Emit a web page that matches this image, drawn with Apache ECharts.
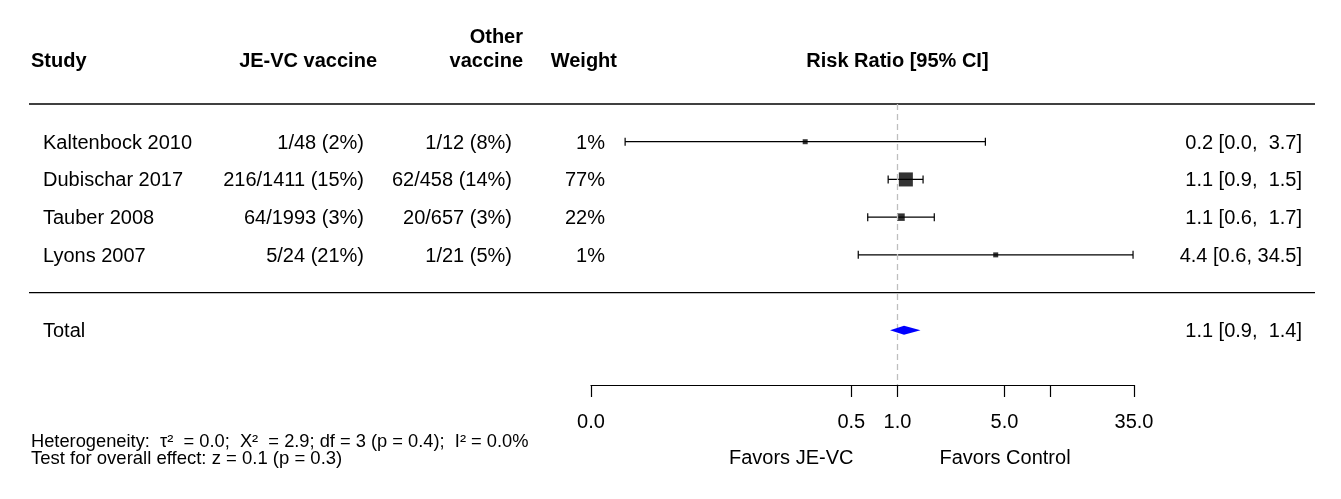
<!DOCTYPE html>
<html>
<head>
<meta charset="utf-8">
<script src="https://cdn.jsdelivr.net/npm/echarts@6/dist/echarts.min.js"></script>
<style>
  html, body { margin: 0; padding: 0; background: #fff; }
  #chart { width: 1341px; height: 499px; }
</style>
</head>
<body>
<div id="chart"></div>
<script>
// study table
const studies = ['Kaltenbock 2010', 'Dubischar 2017', 'Tauber 2008', 'Lyons 2007']
const jeVc = ['1/48 (2%)', '216/1411 (15%)', '64/1993 (3%)', '5/24 (21%)']
const otherVac = ['1/12 (8%)', '62/458 (14%)', '20/657 (3%)', '1/21 (5%)']
const weights = [1, 77, 22, 1]
const weightText = ['1%', '77%', '22%', '1%']

// risk ratios
const rr = [0.25, 1.135, 1.055, 4.38]
const ciLow = [0.0167, 0.87, 0.64, 0.555]
const ciHigh = [3.75, 1.47, 1.74, 34.5]
const ciText = ['0.2 [0.0,  3.7]', '1.1 [0.9,  1.5]', '1.1 [0.6,  1.7]', '4.4 [0.6, 34.5]']

// pooled estimate
const totalRR = [1.104]
const totalLow = [0.895]
const totalHigh = [1.415]
const totalText = ['1.1 [0.9,  1.4]']

// x axis ticks (log scale)
const tickValues = [0.01, 0.5, 1, 5, 10, 35]
const tickLabels = ['0.0', '0.5', '1.0', '5.0', '', '35.0']

const FONT = '"Liberation Sans", Arial, sans-serif'
const lg = v => Math.log10(v)

// row slots on the y axis
const studyRows = [1, 2, 3, 4]
const totalRow = 6
const ruleRows = [0, 5]

const chart = echarts.init(document.getElementById('chart'))

chart.setOption({
  animation: false,
  backgroundColor: '#fff',
  grid: { left: 591, right: 207, top: 104, bottom: 114 },
  xAxis: {
    type: 'value',
    min: lg(0.01),
    max: lg(35),
    splitLine: { show: false },
    axisLine: { show: true, onZero: false, lineStyle: { color: '#000', width: 1.2 } },
    axisTick: {
      show: true, length: 12,
      customValues: tickValues.map(lg),
      lineStyle: { color: '#000', width: 1.2 }
    },
    axisLabel: {
      show: true,
      margin: 27,
      customValues: tickValues.filter((v, i) => tickLabels[i] !== '').map(lg),
      color: '#000',
      fontSize: 20,
      fontFamily: FONT,
      formatter: v => {
        const i = tickValues.findIndex(t => Math.abs(lg(t) - v) < 1e-6)
        return i >= 0 ? tickLabels[i] : ''
      }
    }
  },
  yAxis: {
    type: 'value',
    inverse: true,
    min: 0,
    max: 7.45,
    show: false
  },
  series: [
    {
      // reference line at RR = 1, kept under the marks
      type: 'line',
      name: 'ref',
      z: 1,
      silent: true,
      data: [],
      markLine: {
        silent: true,
        symbol: 'none',
        label: { show: false },
        lineStyle: { color: '#bfbfbf', type: [6, 4], width: 1.3 },
        data: [{ xAxis: 0 }]
      }
    },
    {
      type: 'custom',
      name: 'ci',
      z: 3,
      silent: true,
      data: studies.map((s, i) => [lg(ciLow[i]), lg(ciHigh[i]), studyRows[i]]),
      renderItem(params, api) {
        const p1 = api.coord([api.value(0), api.value(2)])
        const p2 = api.coord([api.value(1), api.value(2)])
        const st = { stroke: '#000', lineWidth: 1.2 }
        const cap = 4
        return {
          type: 'group',
          children: [
            { type: 'line', shape: { x1: p1[0], y1: p1[1], x2: p2[0], y2: p2[1] }, style: st },
            { type: 'line', shape: { x1: p1[0], y1: p1[1] - cap, x2: p1[0], y2: p1[1] + cap }, style: st },
            { type: 'line', shape: { x1: p2[0], y1: p2[1] - cap, x2: p2[0], y2: p2[1] + cap }, style: st }
          ]
        }
      }
    },
    {
      type: 'scatter',
      name: 'rr',
      z: 4,
      silent: true,
      symbol: 'rect',
      data: studies.map((s, i) => ({
        value: [lg(rr[i]), studyRows[i]],
        symbolSize: Math.max(5, 16 * Math.sqrt(weights[i] / 100))
      })),
      itemStyle: { color: '#000' }
    },
    {
      type: 'custom',
      name: 'total',
      z: 5,
      silent: true,
      data: totalRR.map((v, i) => [lg(totalLow[i]), lg(v), lg(totalHigh[i]), totalRow]),
      renderItem(params, api) {
        const y = api.value(3)
        const a = api.coord([api.value(0), y])
        const m = api.coord([api.value(1), y])
        const b = api.coord([api.value(2), y])
        const h = 4.5
        return {
          type: 'polygon',
          shape: { points: [[a[0], a[1]], [m[0], m[1] - h], [b[0], b[1]], [m[0], m[1] + h]] },
          style: { fill: '#0000ff' }
        }
      }
    }
  ]
})

// table text and rules, placed through the axes
const py = r => chart.convertToPixel({ yAxisIndex: 0 }, r)
const px = v => chart.convertToPixel({ xAxisIndex: 0 }, v)
const dy = 1.5 // text baseline nudge

const txt = (text, x, y, align, opts = {}) => ({
  type: 'text', x, y: y + dy, silent: true,
  style: {
    text, fill: '#000', align, verticalAlign: 'middle',
    font: (opts.bold ? 'bold ' : '') + (opts.size || 20) + 'px ' + FONT
  }
})

const g = []
ruleRows.forEach(r => {
  g.push({ type: 'line', silent: true, shape: { x1: 29, y1: py(r), x2: 1315, y2: py(r) }, style: { stroke: '#000', lineWidth: 1.3 } })
})

const hy = py(-1.167)
g.push(txt('Study', 31, hy, 'left', { bold: true }))
g.push(txt('JE-VC vaccine', 377, hy, 'right', { bold: true }))
g.push(txt('Other', 523, py(-1.8), 'right', { bold: true }))
g.push(txt('vaccine', 523, hy, 'right', { bold: true }))
g.push(txt('Weight', 617, hy, 'right', { bold: true }))
g.push(txt('Risk Ratio [95% CI]', px(0), hy, 'center', { bold: true }))

studies.forEach((s, i) => {
  const y = py(studyRows[i])
  g.push(txt(s, 43, y, 'left'))
  g.push(txt(jeVc[i], 364, y, 'right'))
  g.push(txt(otherVac[i], 512, y, 'right'))
  g.push(txt(weightText[i], 605, y, 'right'))
  g.push(txt(ciText[i], 1302, y, 'right'))
})
g.push(txt('Total', 43, py(totalRow), 'left'))
g.push(txt(totalText[0], 1302, py(totalRow), 'right'))

g.push(txt('Favors JE-VC', px(0) - 44, 457, 'right'))
g.push(txt('Favors Control', px(0) + 42, 457, 'left'))

g.push(txt('Heterogeneity:  τ²  = 0.0;  Χ²  = 2.9; df = 3 (p = 0.4);  I² = 0.0%', 31, 440, 'left', { size: 18.3 }))
g.push(txt('Test for overall effect: z = 0.1 (p = 0.3)', 31, 457, 'left', { size: 18.5 }))

chart.setOption({ graphic: g })
</script>
</body>
</html>
